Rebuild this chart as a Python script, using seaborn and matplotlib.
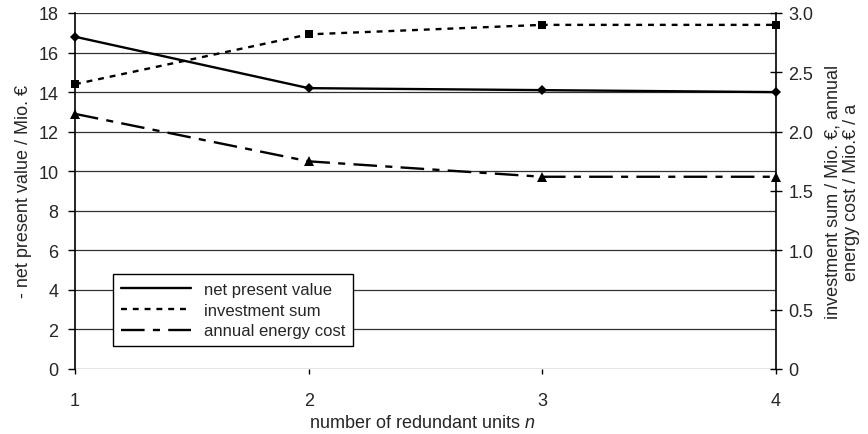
import matplotlib
matplotlib.use("Agg")
import matplotlib.pyplot as plt
from matplotlib.lines import Line2D
import seaborn as sns
import pandas as pd

units = [1, 2, 3, 4]
net_present_value = [16.8, 14.2, 14.1, 14.0]      # left axis, Mio. €
investment_sum = [2.40, 2.82, 2.90, 2.90]         # right axis, Mio. €
annual_energy_cost = [2.15, 1.75, 1.62, 1.62]     # right axis, Mio. € / a

left_ticks = list(range(0, 19, 2))
right_ticks = [0, 0.5, 1.0, 1.5, 2.0, 2.5, 3.0]
right_tick_labels = ["0", "0.5", "1.0", "1.5", "2.0", "2.5", "3.0"]
series_names = ["net present value", "investment sum", "annual energy cost"]

sns.set_theme(style="white")
plt.rcParams["font.family"] = ["Liberation Sans", "DejaVu Sans"]
plt.rcParams["mathtext.fontset"] = "custom"
plt.rcParams["mathtext.rm"] = "Liberation Sans"
plt.rcParams["mathtext.it"] = "Liberation Sans:italic"

DASH_INV = [2.5, 2.5]
DASH_COST = [10, 3.5, 3, 3.5]
LW = 1.7

df_left = pd.DataFrame({"n": units, "v": net_present_value})
df_inv = pd.DataFrame({"n": units, "v": investment_sum})
df_cost = pd.DataFrame({"n": units, "v": annual_energy_cost})

fig = plt.figure(figsize=(8.68, 4.35), dpi=100)
ax = fig.add_axes([75 / 868, 1 - 370 / 435, 701 / 868, 356 / 435])
ax2 = ax.twinx()

for y in left_ticks:
    ax.axhline(y, color="#333333", lw=0.9, zorder=0)

sns.lineplot(data=df_left, x="n", y="v", ax=ax, color="black", lw=LW,
             marker="D", markersize=5, markeredgewidth=0, legend=False,
             zorder=3, clip_on=False)
sns.lineplot(data=df_inv, x="n", y="v", ax=ax2, color="black", lw=LW,
             marker="s", markersize=6, markeredgewidth=0, legend=False,
             zorder=3, clip_on=False)
sns.lineplot(data=df_cost, x="n", y="v", ax=ax2, color="black", lw=LW,
             marker="^", markersize=7, markeredgewidth=0, legend=False,
             zorder=3, clip_on=False)
ax2.lines[0].set_dashes(DASH_INV)
ax2.lines[1].set_dashes(DASH_COST)

ax.set_xlim(1, 4)
ax.set_ylim(0, 18)
ax2.set_ylim(0, 3)
ax.set_xticks(units)
ax.set_yticks(left_ticks)
ax2.set_yticks(right_ticks)
ax2.set_yticklabels(right_tick_labels)

for a in (ax, ax2):
    for s in a.spines.values():
        s.set_visible(False)
ax.spines["left"].set_visible(True)
ax.spines["left"].set_color("black")
ax.spines["left"].set_linewidth(1.2)
ax2.spines["right"].set_visible(True)
ax2.spines["right"].set_color("black")
ax2.spines["right"].set_linewidth(1.2)

ax.tick_params(axis="y", direction="out", length=5, width=1, color="black",
               labelsize=13, pad=7, left=True)
ax.tick_params(axis="x", direction="out", length=3.6, width=1, color="black",
               labelsize=13, pad=13, bottom=True)
ax2.tick_params(axis="y", direction="inout", length=8, width=1, color="black",
                labelsize=13, pad=5, right=True)

ax.set_xlabel("number of redundant units $n$", fontsize=13)
ax.xaxis.set_label_coords(0.495, -0.127)
ax.set_ylabel("- net present value / Mio. €", fontsize=13)
ax.yaxis.set_label_coords(-0.062, 0.5)
ax2.set_ylabel("investment sum / Mio. €, annual\nenergy cost / Mio.€ / a",
               fontsize=13, linespacing=1.1)
ax2.yaxis.set_label_coords(1.069, 0.5)

handles = [
    Line2D([], [], color="black", lw=LW),
    Line2D([], [], color="black", lw=LW, dashes=DASH_INV),
    Line2D([], [], color="black", lw=LW, dashes=DASH_COST),
]
leg = ax.legend(handles, series_names,
                loc="lower left", bbox_to_anchor=(38 / 701, 23 / 356),
                frameon=True, fancybox=False, edgecolor="black", framealpha=1,
                fontsize=12, handlelength=4.2, borderpad=0.45, labelspacing=0.35,
                handletextpad=0.8, borderaxespad=0)
leg.get_frame().set_linewidth(1.0)
leg.set_zorder(5)

fig.savefig("out.png", dpi=100)
